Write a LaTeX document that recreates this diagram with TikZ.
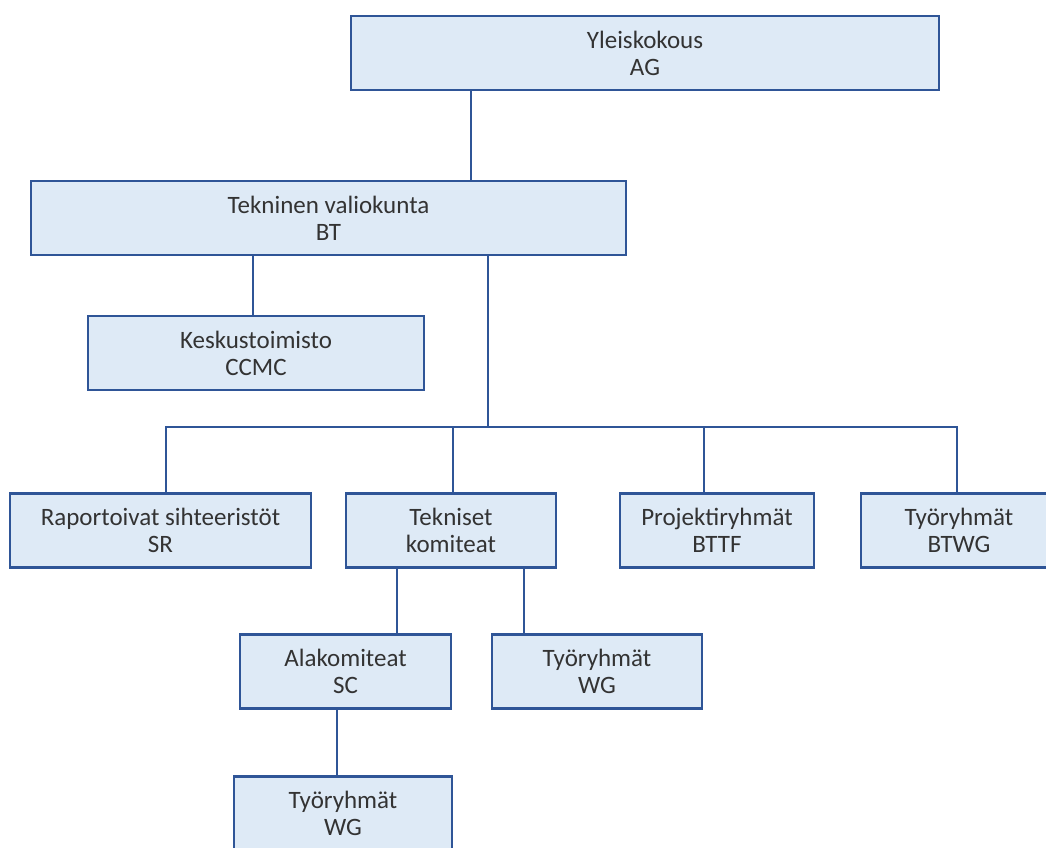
\documentclass[tikz,border=0pt]{standalone}
\usepackage{fontspec}
\setmainfont{Carlito}
\usepackage{tikz}
\definecolor{boxline}{RGB}{47,85,151}
\definecolor{boxfill}{RGB}{222,234,246}

\begin{document}
\begin{tikzpicture}[x=1pt,y=1pt,node distance=140pt,
box/.style={draw=boxline,fill=boxfill,line width=2.5pt,minimum height=74pt,inner sep=0pt,align=center,text=black!80,font=\fontsize{25pt}{27pt}\selectfont},
link/.style={draw=boxline,line width=2pt}]
\useasboundingbox (0,0) rectangle (1046,-848);
\clip (0,0) rectangle (1046,-848);
\node[box,minimum width=588pt] at (645,-53) (ag) {Yleiskokous\\AG};
\node[box,minimum width=595pt] [below of=ag,node distance=165pt,xshift=-316.5pt] (bt) {Tekninen valiokunta\\BT};
\node[box,minimum width=336pt] [below of=bt,node distance=135pt,xshift=-72.5pt] (ccmc) {Keskustoimisto\\CCMC};
\node[box,minimum width=210pt] [below of=bt,node distance=312.5pt,xshift=122.5pt] (tk) {Tekniset\\komiteat};
\node[box,minimum width=301pt] [left of=tk,node distance=290.5pt] (sr) {Raportoivat sihteeristöt\\SR};
\node[box,minimum width=194pt] [right of=tk,node distance=266pt] (bttf) {Projektiryhmät\\BTTF};
\node[box,minimum width=196pt] [right of=bttf,node distance=242pt] (btwg) {Työryhmät\\BTWG};
\node[box,minimum width=211pt] [below of=tk,node distance=141pt,xshift=-105.5pt] (sc) {Alakomiteat\\SC};
\node[box,minimum width=210pt] [right of=sc,node distance=251.5pt] (wg) {Työryhmät\\WG};
\node[box,minimum width=218pt] [below of=sc,node distance=142pt,xshift=-2.5pt] (scwg) {Työryhmät\\WG};
\coordinate [below of=bt,node distance=209pt,xshift=159.5pt] (bus);
% connectors
\draw[link] ([xshift=121pt]ag.south west) coordinate (p1) -- (p1 |- bt.north);
\draw[link] ([xshift=-3pt]ccmc.north) coordinate (p2) -- (p2 |- bt.south);
\draw[link] (bus |- bt.south) -- (bus);
\draw[link] ([xshift=5.5pt]sr.north) |- (bus);
\draw[link] ([xshift=2pt]tk.north) |- (bus);
\draw[link] ([xshift=-13pt]bttf.north) |- (bus);
\draw[link] ([xshift=-2pt]btwg.north) |- (bus);
\draw[link] ([xshift=51.5pt]sc.north) coordinate (p3) -- (p3 |- tk.south);
\draw[link] ([xshift=-73pt]wg.north) coordinate (p4) -- (p4 |- tk.south);
\draw[link] ([xshift=-6pt]scwg.north) coordinate (p5) -- (p5 |- sc.south);
\end{tikzpicture}
\end{document}
